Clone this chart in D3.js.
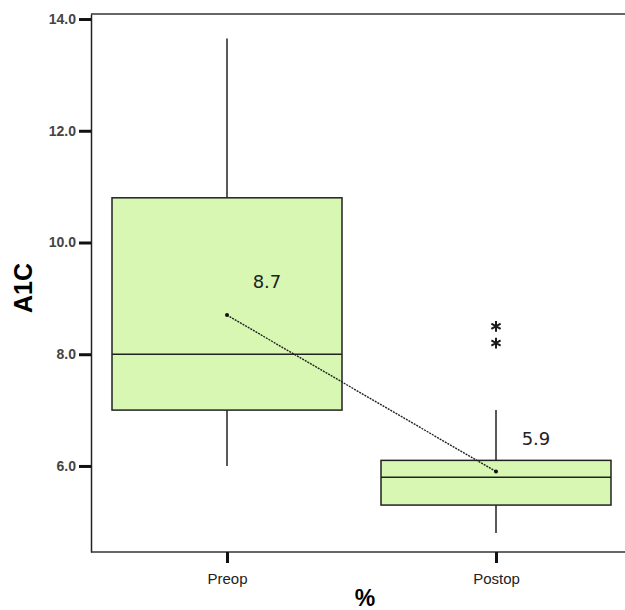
<!DOCTYPE html>
<html>
<head>
<meta charset="utf-8">
<script src="https://cdn.jsdelivr.net/npm/d3@7"></script>
<style>
  body { margin: 0; background: #fff; }
  svg { display: block; font-family: "DejaVu Sans", Verdana, sans-serif; }
</style>
</head>
<body>
<div id="chart"></div>
<script>
(function() {
  'use strict';

  // data
  var groups = ['Preop', 'Postop'];
  var whiskerLow = [6.0, 4.8];
  var q1 = [7.0, 5.3];
  var medians = [8.0, 5.8];
  var q3 = [10.8, 6.1];
  var whiskerHigh = [13.65, 7.0];
  var means = [8.7, 5.9];
  var outliers = [[], [8.5, 8.2]];
  var yTicks = [6, 8, 10, 12, 14];

  var width = 625, height = 610;
  var margin = {top: 14, right: 0, bottom: 58, left: 91};
  var boxWidth = 230;
  var fill = '#d7f7b3';

  var svg = d3.select('#chart')
    .append('svg')
      .attr('width', width)
      .attr('height', height);

  var y = d3.scaleLinear()
    .domain([4.46, 14.09])
    .range([height - margin.bottom, margin.top]);

  var x = d3.scalePoint()
    .domain(groups)
    .range([227, 496]);

  // frame: top line, left axis, bottom axis (no right side)
  svg.append('line')
    .attr('x1', margin.left).attr('x2', width)
    .attr('y1', margin.top).attr('y2', margin.top)
    .attr('stroke', '#333').attr('stroke-width', 1.5);

  // y axis
  var yAxis = svg.append('g')
    .attr('transform', 'translate(' + margin.left + ',0)')
    .call(d3.axisLeft(y).tickValues(yTicks).tickFormat(d3.format('.1f'))
      .tickSize(12).tickSizeOuter(0));
  yAxis.select('.domain').attr('stroke', '#222').attr('stroke-width', 1.5);
  yAxis.selectAll('.tick line').attr('stroke', '#111').attr('stroke-width', 3);
  yAxis.selectAll('.tick text')
    .attr('x', -15)
    .style('font-size', '14px')
    .style('font-weight', 'bold')
    .attr('fill', '#444');

  // x axis
  var xAxis = svg.append('g')
    .attr('transform', 'translate(0,' + (height - margin.bottom) + ')')
    .call(d3.axisBottom(x).tickSize(11).tickSizeOuter(0));
  xAxis.select('.domain')
    .attr('d', 'M' + margin.left + ',0H' + width)
    .attr('stroke', '#333').attr('stroke-width', 1.5);
  xAxis.selectAll('.tick line').attr('stroke', '#111').attr('stroke-width', 3);
  xAxis.selectAll('.tick text')
    .attr('y', 21)
    .style('font-size', '15px')
    .attr('fill', '#222');

  // axis titles
  svg.append('text')
    .attr('transform', 'translate(32,288) rotate(-90)')
    .attr('text-anchor', 'middle')
    .style('font-family', 'Arial, "Liberation Sans", sans-serif')
    .style('font-size', '25px')
    .style('font-weight', 'bold')
    .text('A1C');

  svg.append('text')
    .attr('x', 365)
    .attr('y', 606)
    .attr('text-anchor', 'middle')
    .style('font-family', 'Arial, "Liberation Sans", sans-serif')
    .style('font-size', '23px')
    .style('font-weight', 'bold')
    .text('%');

  var data = groups.map(function(g, i) {
    return {
      name: g,
      lo: whiskerLow[i], q1: q1[i], med: medians[i], q3: q3[i],
      hi: whiskerHigh[i], mean: means[i], out: outliers[i]
    };
  });

  var box = svg.selectAll('.box')
    .data(data)
    .enter().append('g')
      .attr('class', 'box');

  // whiskers
  box.append('line')
    .attr('x1', function(d) { return x(d.name); })
    .attr('x2', function(d) { return x(d.name); })
    .attr('y1', function(d) { return y(d.q3); })
    .attr('y2', function(d) { return y(d.hi); })
    .attr('stroke', '#222').attr('stroke-width', 1.5);
  box.append('line')
    .attr('x1', function(d) { return x(d.name); })
    .attr('x2', function(d) { return x(d.name); })
    .attr('y1', function(d) { return y(d.q1); })
    .attr('y2', function(d) { return y(d.lo); })
    .attr('stroke', '#222').attr('stroke-width', 1.5);

  box.append('rect')
    .attr('x', function(d) { return x(d.name) - boxWidth / 2; })
    .attr('width', boxWidth)
    .attr('y', function(d) { return y(d.q3); })
    .attr('height', function(d) { return y(d.q1) - y(d.q3); })
    .attr('fill', fill)
    .attr('stroke', '#222').attr('stroke-width', 1.5);

  box.append('line')
    .attr('x1', function(d) { return x(d.name) - boxWidth / 2; })
    .attr('x2', function(d) { return x(d.name) + boxWidth / 2; })
    .attr('y1', function(d) { return y(d.med); })
    .attr('y2', function(d) { return y(d.med); })
    .attr('stroke', '#222').attr('stroke-width', 1.5);

  // outliers drawn as asterisks
  box.selectAll('.out')
    .data(function(d) { return d.out.map(function(v) { return {name: d.name, v: v}; }); })
    .enter().append('path')
      .attr('class', 'out')
      .attr('d', d3.symbol(d3.symbolAsterisk, 80))
      .attr('transform', function(d) { return 'translate(' + x(d.name) + ',' + y(d.v) + ')'; })
      .attr('fill', 'none')
      .attr('stroke', '#1a1a1a').attr('stroke-width', 2);

  // line joining the means
  var meanLine = d3.line()
    .x(function(d) { return x(d.name); })
    .y(function(d) { return y(d.mean); });

  svg.append('path')
    .datum(data)
    .attr('d', meanLine)
    .attr('fill', 'none')
    .attr('stroke', '#222')
    .attr('stroke-width', 1.4)
    .attr('stroke-dasharray', '2,1');

  svg.selectAll('.mean')
    .data(data)
    .enter().append('circle')
      .attr('class', 'mean')
      .attr('cx', function(d) { return x(d.name); })
      .attr('cy', function(d) { return y(d.mean); })
      .attr('r', 2)
      .attr('fill', '#111');

  // mean labels
  svg.selectAll('.mean-label')
    .data(data)
    .enter().append('text')
      .attr('class', 'mean-label')
      .attr('x', function(d) { return x(d.name) + 40; })
      .attr('y', function(d) { return y(d.mean) - 27; })
      .attr('text-anchor', 'middle')
      .style('font-size', '18px')
      .attr('fill', '#222')
      .text(function(d) { return d3.format('.1f')(d.mean); });
})();
</script>
</body>
</html>
